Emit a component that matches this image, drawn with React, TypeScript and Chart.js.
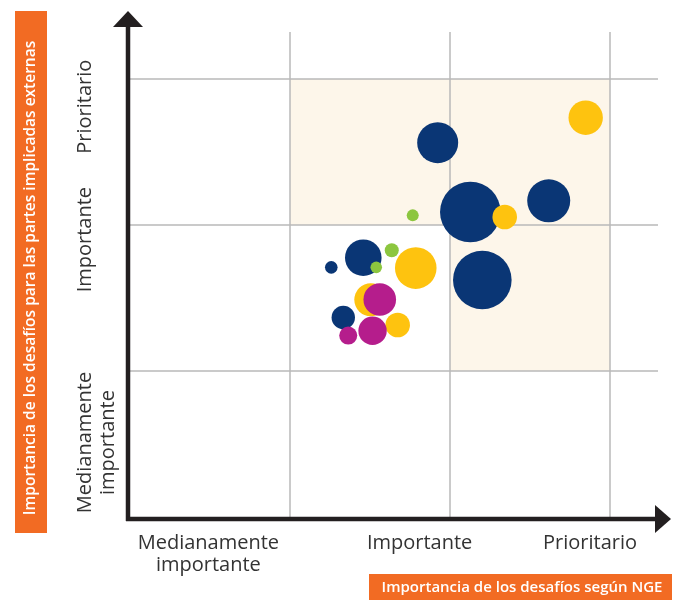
import React, { useEffect, useRef } from "react";
import { Chart, registerables } from "chart.js";

Chart.register(...registerables);

// ---- Data ----
const navyX = [1.923, 2.127, 2.617, 2.202, 1.458, 1.258, 1.333];
const navyY = [2.564, 2.089, 2.166, 1.623, 1.776, 1.71, 1.366];
const navyR = [20.5, 30.3, 21.5, 29.3, 18.3, 6.3, 11.7];

const yellowX = [2.848, 2.342, 1.786, 1.505, 1.673];
const yellowY = [2.735, 2.055, 1.705, 1.488, 1.315];
const yellowR = [17.2, 12.3, 20.8, 16.5, 12.3];

const greenX = [1.767, 1.636, 1.539];
const greenY = [2.066, 1.827, 1.71];
const greenR = [6, 7, 5.8];

const magentaX = [1.561, 1.516, 1.364];
const magentaY = [1.490, 1.276, 1.243];
const magentaR = [16.3, 14.2, 9];

const gridValues = [1, 2, 3];
const xTickValues = [0.49, 1.81, 2.875];
const xTickLabels = [["Medianamente", "importante"], ["Importante"], ["Prioritario"]];
const yTickValues = [2.81, 1.9, 0.51];
const yTickLabels = [["Prioritario"], ["Importante"], ["Medianamente", "importante"]];
// shaded "priority" zone: [xFrom, xTo, yFrom, yTo]
const zoneRects = [
  [1, 3, 2, 3],
  [2, 3, 1, 2],
];
const xTitle = "Importancia de los desafíos según NGE";
const yTitle = "Importancia de los desafíos para las partes implicadas externas";

const COLORS = {
  navy: "#0a3675",
  yellow: "#fec30f",
  green: "#8cc63f",
  magenta: "#b51d8c",
  orange: "#f26b23",
  zone: "#fdf6ea",
  grid: "#b9b9b9",
  axis: "#231f20",
  text: "#333333",
};
const FONT = "'Open Sans', Lato, sans-serif";

function pts(xs: number[], ys: number[], rs: number[]) {
  return xs.map((x, i) => ({ x, y: ys[i], r: rs[i] }));
}

const decorPlugin = {
  id: "decor",
  beforeDatasetsDraw(chart: any) {
    const { ctx, chartArea, scales } = chart;
    const xs = scales.x;
    const ys = scales.y;
    ctx.save();
    ctx.fillStyle = COLORS.zone;
    zoneRects.forEach(([x0, x1, y0, y1]) => {
      const px0 = xs.getPixelForValue(x0);
      const px1 = xs.getPixelForValue(x1);
      const py0 = ys.getPixelForValue(y0);
      const py1 = ys.getPixelForValue(y1);
      ctx.fillRect(px0, py1, px1 - px0, py0 - py1);
    });
    ctx.strokeStyle = COLORS.grid;
    ctx.lineWidth = 1.5;
    gridValues.forEach((v) => {
      const px = xs.getPixelForValue(v);
      ctx.beginPath();
      ctx.moveTo(px, chartArea.top);
      ctx.lineTo(px, chartArea.bottom);
      ctx.stroke();
      const py = ys.getPixelForValue(v);
      ctx.beginPath();
      ctx.moveTo(chartArea.left, py);
      ctx.lineTo(chartArea.right, py);
      ctx.stroke();
    });
    ctx.restore();
  },
  afterDatasetsDraw(chart: any) {
    const { ctx, chartArea, scales } = chart;
    const xs = scales.x;
    const ys = scales.y;
    const ax = chartArea.left - 2;
    const ay = chartArea.bottom + 2;
    ctx.save();
    ctx.fillStyle = COLORS.axis;
    ctx.strokeStyle = COLORS.axis;
    ctx.lineWidth = 4.5;
    ctx.beginPath();
    ctx.moveTo(ax, ay + 2);
    ctx.lineTo(ax, 26);
    ctx.stroke();
    ctx.beginPath();
    ctx.moveTo(ax - 2, ay);
    ctx.lineTo(656, ay);
    ctx.stroke();
    ctx.beginPath();
    ctx.moveTo(ax, 11);
    ctx.lineTo(ax + 15, 27);
    ctx.lineTo(ax - 15, 27);
    ctx.closePath();
    ctx.fill();
    ctx.beginPath();
    ctx.moveTo(671, ay);
    ctx.lineTo(655, ay - 14);
    ctx.lineTo(655, ay + 14);
    ctx.closePath();
    ctx.fill();

    // tick labels
    ctx.fillStyle = COLORS.text;
    ctx.font = `20px ${FONT}`;
    ctx.textAlign = "center";
    ctx.textBaseline = "alphabetic";
    xTickValues.forEach((v, i) => {
      const px = xs.getPixelForValue(v);
      xTickLabels[i].forEach((line, j) => {
        ctx.fillText(line, px, 549 + j * 22);
      });
    });
    yTickValues.forEach((v, i) => {
      const py = ys.getPixelForValue(v);
      ctx.save();
      ctx.translate(0, py);
      ctx.rotate(-Math.PI / 2);
      yTickLabels[i].forEach((line, j) => {
        ctx.fillText(line, 0, 91 + j * 23);
      });
      ctx.restore();
    });

    // axis titles with orange boxes
    ctx.fillStyle = COLORS.orange;
    ctx.fillRect(369, 574, 303, 26);
    ctx.fillRect(15, 11, 32, 522);
    ctx.fillStyle = "#ffffff";
    ctx.textBaseline = "middle";
    ctx.font = `600 15px ${FONT}`;
    ctx.fillText(xTitle, 522, 588);
    ctx.save();
    ctx.translate(31, 278);
    ctx.rotate(-Math.PI / 2);
    ctx.font = `600 15.5px ${FONT}`;
    ctx.fillText(yTitle, 0, 0);
    ctx.restore();
    ctx.restore();
  },
};

export default function App() {
  const ref = useRef<HTMLCanvasElement>(null);
  useEffect(() => {
    if (!ref.current) return;
    const chart = new Chart(ref.current, {
      type: "bubble",
      data: {
        datasets: [
          { label: "Magenta", data: pts(magentaX, magentaY, magentaR), backgroundColor: COLORS.magenta },
          { label: "Green", data: pts(greenX, greenY, greenR), backgroundColor: COLORS.green },
          { label: "Yellow", data: pts(yellowX, yellowY, yellowR), backgroundColor: COLORS.yellow },
          { label: "Navy", data: pts(navyX, navyY, navyR), backgroundColor: COLORS.navy },
        ].map((d) => ({ ...d, borderWidth: 0, hoverBorderWidth: 0, clip: false as any })),
      },
      options: {
        responsive: false,
        animation: false,
        events: [],
        layout: { autoPadding: false, padding: { left: 130, right: 18, top: 32, bottom: 83 } },
        scales: {
          x: { type: "linear", min: 0, max: 3.3, display: false },
          y: { type: "linear", min: 0, max: 3.322, display: false },
        },
        plugins: { legend: { display: false }, tooltip: { enabled: false } },
      },
      plugins: [decorPlugin],
    });
    return () => chart.destroy();
  }, []);
  return (
    <div style={{ position: "fixed", left: 0, top: 0, width: 676, height: 600, background: "#fff" }}>
      <canvas ref={ref} width={676} height={600} />
    </div>
  );
}
